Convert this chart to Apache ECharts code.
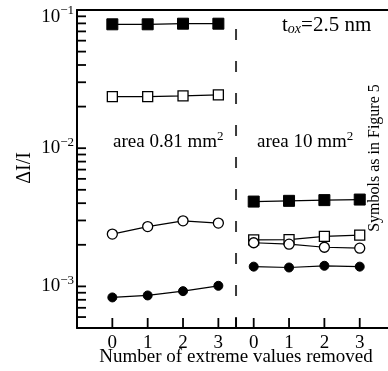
<!DOCTYPE html>
<html><head><meta charset="utf-8">
<script src="https://cdn.jsdelivr.net/npm/echarts@6/dist/echarts.min.js"></script>
<style>html,body{margin:0;padding:0;background:#fff}#c{width:388px;height:371px}</style>
</head><body><div id="c"></div>
<script>
// x positions within each area group (number of extreme values removed)
const removedCounts = [0, 1, 2, 3];
const tickLabels = ['0', '1', '2', '3'];
const groupOffsets = [0, 4]; // area 0.81 mm^2 group, area 10 mm^2 group

// area 0.81 mm^2
const smallFilledSquares = [0.0788, 0.0788, 0.0796, 0.0796];
const smallOpenSquares   = [0.0236, 0.0236, 0.0239, 0.0243];
const smallOpenCircles   = [0.00239, 0.00271, 0.00298, 0.00287];
const smallFilledCircles = [0.000832, 0.000860, 0.000924, 0.00101];
// area 10 mm^2
const largeFilledSquares = [0.00411, 0.00416, 0.00421, 0.00425];
const largeOpenSquares   = [0.00217, 0.00218, 0.00230, 0.00235];
const largeOpenCircles   = [0.00207, 0.00202, 0.00192, 0.00189];
const largeFilledCircles = [0.00139, 0.00137, 0.00141, 0.00139];

const yMinValue = 5e-4, yMaxValue = 1e-1;
const majorDecades = [-3, -2, -1];
const xMin = -1, xMax = 7.8;
const xTickPositions = [0, 1, 2, 3, 3.5, 4, 5, 6, 7];
const xLabelPositions = [0, 1, 2, 3, 4, 5, 6, 7];

const FONT = '"Liberation Serif", "DejaVu Serif", serif';
const L = Math.log10;

const yTickValues = [];
for (let d = -4; d <= -2; d++) {
  for (let k = 1; k <= 9; k++) {
    const v = L(k * Math.pow(10, d));
    if (v > L(yMinValue) + 1e-9 && v < L(yMaxValue) - 1e-9) yTickValues.push(v);
  }
}

function mk(vals, offset, symbol, filled, size) {
  return {
    type: 'line',
    data: removedCounts.map((c, i) => [c + offset, L(vals[i])]),
    symbol: symbol,
    symbolSize: size,
    showSymbol: true,
    lineStyle: { color: '#000', width: 1.2 },
    itemStyle: filled ? { color: '#000', borderColor: '#000', borderWidth: 1 } : { color: '#fff', borderColor: '#000', borderWidth: 1.3 },
    z: 5,
    silent: true,
    animation: false
  };
}

const series = [
  mk(smallFilledSquares, groupOffsets[0], 'rect', true, 11),
  mk(smallOpenSquares, groupOffsets[0], 'rect', false, 10),
  mk(smallOpenCircles, groupOffsets[0], 'circle', false, 10),
  mk(smallFilledCircles, groupOffsets[0], 'circle', true, 9),
  mk(largeFilledSquares, groupOffsets[1], 'rect', true, 11),
  mk(largeOpenSquares, groupOffsets[1], 'rect', false, 10),
  mk(largeOpenCircles, groupOffsets[1], 'circle', false, 10),
  mk(largeFilledCircles, groupOffsets[1], 'circle', true, 9),
  {
    type: 'line',
    data: [[3.5, L(yMinValue)], [3.5, L(yMaxValue)]],
    symbol: 'none',
    lineStyle: { color: '#3a3a3a', width: 2, type: [11, 21], dashOffset: 0 },
    z: 2, silent: true, animation: false
  }
];

const chart = echarts.init(document.getElementById('c'), null, { renderer: 'canvas' });
chart.setOption({
  animation: false,
  backgroundColor: '#fff',
  grid: { left: 77, right: 0, top: 10, bottom: 43, containLabel: false, outerBoundsMode: 'none' },
  xAxis: [{
    type: 'value', min: xMin, max: xMax, position: 'bottom',
    axisLine: { show: true, onZero: false, lineStyle: { color: '#000', width: 2 } },
    splitLine: { show: false },
    axisTick: { show: false },
    axisLabel: { customValues: xLabelPositions, formatter: v => tickLabels[Math.round(v) % 4], margin: 6, fontFamily: FONT, fontSize: 19, color: '#000' }
  }, {
    type: 'value', min: xMin, max: xMax, position: 'top',
    axisLine: { show: true, onZero: false, lineStyle: { color: '#000', width: 2 } },
    axisTick: { show: false }, axisLabel: { show: false }, splitLine: { show: false }
  }],
  yAxis: {
    type: 'value', min: L(yMinValue), max: L(yMaxValue),
    axisLine: { show: true, onZero: false, lineStyle: { color: '#000', width: 2 } },
    splitLine: { show: false },
    axisTick: { show: false },
    axisLabel: {
      customValues: majorDecades,
      formatter: v => {
        const e = Math.round(v);
        return e === -1 ? '{bt|10}{st|\u22121}' : '{b|10}{s|\u2212' + (-e) + '}';
      },
      margin: 3,
      rich: {
        b: { fontFamily: FONT, fontSize: 19, color: '#000' },
        s: { fontFamily: FONT, fontSize: 13, color: '#000', padding: [0, 0, 12, 0] },
        bt: { fontFamily: FONT, fontSize: 19, color: '#000', padding: [14, 0, 0, 0] },
        st: { fontFamily: FONT, fontSize: 13, color: '#000', padding: [2, 0, 0, 0] }
      }
    }
  },
  series: series
});

// axis titles, annotations and inward axis ticks (tick positions via the chart's own axes)
const graphics = [
  { type: 'text', x: 236, y: 357, style: {
    text: 'Number of extreme values removed', align: 'center', verticalAlign: 'middle',
    fontFamily: FONT, fontSize: 19, fill: '#000' } },
  { type: 'text', x: 25, y: 168, rotation: Math.PI / 2, style: {
    text: '\u0394I/I', align: 'center', verticalAlign: 'middle',
    fontFamily: FONT, fontSize: 20, fill: '#000' } },
  { type: 'text', x: 282, y: 25, style: {
    text: '{t|t}{o|ox}{t|=2.5 nm}', verticalAlign: 'middle', align: 'left',
    rich: {
      t: { fontFamily: FONT, fontSize: 21, color: '#000' },
      o: { fontFamily: FONT, fontSize: 14, fontStyle: 'italic', color: '#000', padding: [8, 0, 0, 0] }
    } } },
  { type: 'text', x: 113, y: 142, style: {
    text: '{t|area 0.81 mm}{s|2}', verticalAlign: 'middle', align: 'left',
    rich: {
      t: { fontFamily: FONT, fontSize: 19, color: '#000' },
      s: { fontFamily: FONT, fontSize: 13, color: '#000', padding: [0, 0, 10, 0] }
    } } },
  { type: 'text', x: 257, y: 142, style: {
    text: '{t|area 10 mm}{s|2}', verticalAlign: 'middle', align: 'left',
    rich: {
      t: { fontFamily: FONT, fontSize: 19, color: '#000' },
      s: { fontFamily: FONT, fontSize: 13, color: '#000', padding: [0, 0, 10, 0] }
    } } },
  { type: 'text', x: 375, y: 158, rotation: Math.PI / 2, style: {
    text: 'Symbols as in Figure 5', align: 'center', verticalAlign: 'middle',
    fontFamily: FONT, fontSize: 16, fill: '#000' } }
];
const finder = { xAxisIndex: 0, yAxisIndex: 0 };
yTickValues.forEach(v => {
  const p = chart.convertToPixel(finder, [xMin, v]);
  graphics.push({ type: 'line', z: 10, silent: true,
    shape: { x1: p[0], y1: p[1], x2: p[0] + 9, y2: p[1] },
    style: { stroke: '#000', lineWidth: 1.8 } });
});
xTickPositions.forEach(v => {
  const p = chart.convertToPixel(finder, [v, L(yMinValue)]);
  graphics.push({ type: 'line', z: 10, silent: true,
    shape: { x1: p[0], y1: p[1], x2: p[0], y2: p[1] - 10 },
    style: { stroke: '#000', lineWidth: 1.8 } });
});
chart.setOption({ graphic: graphics });
</script>
</body></html>
